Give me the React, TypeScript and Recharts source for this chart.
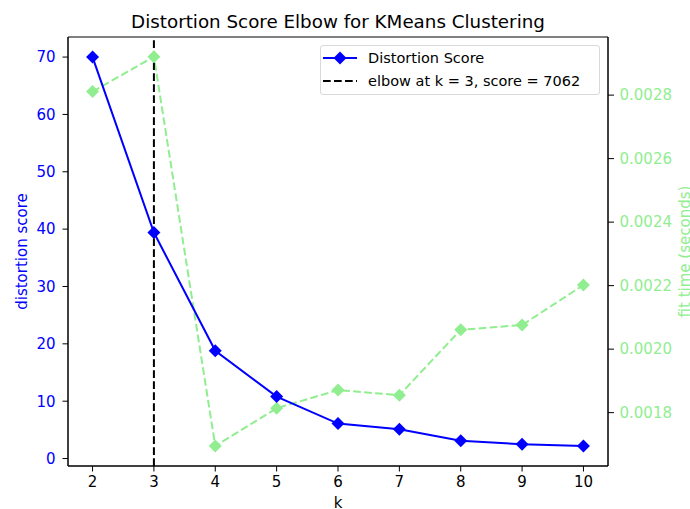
import React from "react";
import {
  LineChart,
  Line,
  XAxis,
  YAxis,
  ReferenceLine,
  ReferenceArea,
  Legend,
} from "recharts";

const ks = [2, 3, 4, 5, 6, 7, 8, 9, 10];
const distortion = [70.0, 39.4, 18.8, 10.8, 6.1, 5.1, 3.1, 2.5, 2.2];
const fitTime = [0.002811, 0.002921, 0.001695, 0.001814, 0.001871, 0.001855, 0.002061, 0.002076, 0.002202];
const xTicks = [2, 3, 4, 5, 6, 7, 8, 9, 10];
const leftTicks = [0, 10, 20, 30, 40, 50, 60, 70];
const rightTicks = [0.0018, 0.002, 0.0022, 0.0024, 0.0026, 0.0028];
const elbowK = 3;
const elbowScore = 7062;

const data = ks.map((k, i) => ({ k, distortion: distortion[i], fit: fitTime[i] }));

const X_DOMAIN: [number, number] = [1.6, 10.4];
const L_DOMAIN: [number, number] = [-1.3, 73.5];
const R_DOMAIN: [number, number] = [0.001632, 0.002983];

const FONT = "'DejaVu Sans', sans-serif";
const BLUE = "#0000ff";
const GREEN = "#90ee90";
const TICK_FS = 15;
const LABEL_FS = 15;

const Diamond = (props: any) => {
  const { cx, cy, fill, r, index } = props;
  if (cx == null || cy == null) return null;
  const s = r || 6.5;
  return (
    <polygon
      key={`d-${index}`}
      points={`${cx},${cy - s} ${cx + s},${cy} ${cx},${cy + s} ${cx - s},${cy}`}
      fill={fill}
      stroke="none"
    />
  );
};

const LeftLabel = (props: any) => {
  const vb = props.viewBox || {};
  const cx = 26.5;
  const cy = (vb.y ?? 37) + (vb.height ?? 429) / 2;
  return (
    <text
      x={cx}
      y={cy}
      transform={`rotate(-90 ${cx} ${cy})`}
      textAnchor="middle"
      fill={BLUE}
      fontSize={LABEL_FS}
      fontFamily={FONT}
    >
      distortion score
    </text>
  );
};

const RightLabel = (props: any) => {
  const vb = props.viewBox || {};
  const cx = 690;
  const cy = (vb.y ?? 37) + (vb.height ?? 429) / 2;
  return (
    <text
      x={cx}
      y={cy}
      transform={`rotate(-90 ${cx} ${cy})`}
      textAnchor="middle"
      fill={GREEN}
      fontSize={LABEL_FS}
      fontFamily={FONT}
    >
      fit time (seconds)
    </text>
  );
};

const BottomLabel = (props: any) => {
  const vb = props.viewBox || {};
  const cx = (vb.x ?? 68) + (vb.width ?? 540) / 2;
  return (
    <text x={cx} y={507.5} textAnchor="middle" fill="#000" fontSize={LABEL_FS} fontFamily={FONT}>
      k
    </text>
  );
};

const LegendBox = () => (
  <div
    style={{
      border: "1px solid #d9d9d9",
      borderRadius: 3,
      background: "rgba(255,255,255,0.8)",
      width: 280,
      height: 50,
      boxSizing: "border-box",
      fontFamily: FONT,
      fontSize: 14.5,
      color: "#000",
      padding: 0,
    }}
  >
    <div style={{ display: "flex", alignItems: "center", height: 23.5 }}>
      <svg width={40} height={16} style={{ flex: "none" }}>
        <line x1={2} y1={8} x2={36} y2={8} stroke={BLUE} strokeWidth={2} />
        <polygon points="19,1.5 25.5,8 19,14.5 12.5,8" fill={BLUE} />
      </svg>
      <span style={{ marginLeft: 7, whiteSpace: "nowrap" }}>Distortion Score</span>
    </div>
    <div style={{ display: "flex", alignItems: "center", height: 23.5 }}>
      <svg width={40} height={16} style={{ flex: "none" }}>
        <line x1={2} y1={8} x2={36} y2={8} stroke="#000" strokeWidth={2} strokeDasharray="7.7 3.3" />
      </svg>
      <span style={{ marginLeft: 7, whiteSpace: "nowrap" }}>{`elbow at k = ${elbowK}, score = ${elbowScore}`}</span>
    </div>
  </div>
);

export default function App() {
  return (
    <div
      style={{
        position: "absolute",
        left: 0,
        top: 0,
        width: 690,
        height: 509,
        background: "#fff",
        fontFamily: FONT,
        overflow: "hidden",
      }}
    >
      <div
        style={{
          position: "absolute",
          left: 68,
          width: 540,
          top: 10.5,
          textAlign: "center",
          fontSize: 18.3,
          color: "#000",
          fontFamily: FONT,
          lineHeight: "22px",
          whiteSpace: "nowrap",
        }}
      >
        Distortion Score Elbow for KMeans Clustering
      </div>
      <LineChart
        width={690}
        height={509}
        data={data}
        margin={{ top: 37, right: 0, bottom: 0, left: 0 }}
      >
        <XAxis
          dataKey="k"
          type="number"
          domain={X_DOMAIN}
          ticks={xTicks}
          allowDataOverflow
          height={43}
          tickSize={5.5}
          tickMargin={5}
          axisLine={{ stroke: "#000" }}
          tickLine={{ stroke: "#000" }}
          tick={{ fill: "#000", fontSize: TICK_FS }}
          label={<BottomLabel />}
        />
        <YAxis
          yAxisId="left"
          type="number"
          domain={L_DOMAIN}
          ticks={leftTicks}
          allowDataOverflow
          width={68}
          tickSize={5.5}
          tickMargin={7}
          axisLine={{ stroke: "#000" }}
          tickLine={{ stroke: "#000" }}
          tick={{ fill: BLUE, fontSize: TICK_FS }}
          label={<LeftLabel />}
        />
        <YAxis
          yAxisId="right"
          orientation="right"
          type="number"
          domain={R_DOMAIN}
          ticks={rightTicks}
          allowDataOverflow
          width={82}
          tickSize={6}
          tickMargin={5.5}
          tickFormatter={(v: number) => v.toFixed(4)}
          axisLine={{ stroke: "#000" }}
          tickLine={{ stroke: "#000" }}
          tick={{ fill: GREEN, fontSize: TICK_FS }}
          label={<RightLabel />}
        />
        <ReferenceArea
          yAxisId="left"
          x1={X_DOMAIN[0]}
          x2={X_DOMAIN[1]}
          y1={L_DOMAIN[0]}
          y2={L_DOMAIN[1]}
          fill="none"
          fillOpacity={0}
          stroke="#000"
          strokeWidth={1}
          strokeOpacity={1}
        />
        <Line
          yAxisId="right"
          type="linear"
          dataKey="fit"
          stroke={GREEN}
          strokeWidth={2}
          strokeDasharray="7.7 3.3"
          dot={(p: any) => <Diamond {...p} fill={GREEN} r={6.5} />}
          activeDot={false}
          isAnimationActive={false}
        />
        <ReferenceLine
          yAxisId="left"
          x={elbowK}
          stroke="#000"
          strokeWidth={2}
          strokeDasharray="7.7 3.3"
        />
        <Line
          yAxisId="left"
          type="linear"
          dataKey="distortion"
          stroke={BLUE}
          strokeWidth={2}
          dot={(p: any) => <Diamond {...p} fill={BLUE} r={6.5} />}
          activeDot={false}
          isAnimationActive={false}
        />
        <Legend
          layout="vertical"
          align="center"
          verticalAlign="middle"
          content={<LegendBox />}
          wrapperStyle={{ position: "absolute", left: 320, top: 45, width: 280, height: 50, bottom: "auto", right: "auto" }}
        />
      </LineChart>
    </div>
  );
}
